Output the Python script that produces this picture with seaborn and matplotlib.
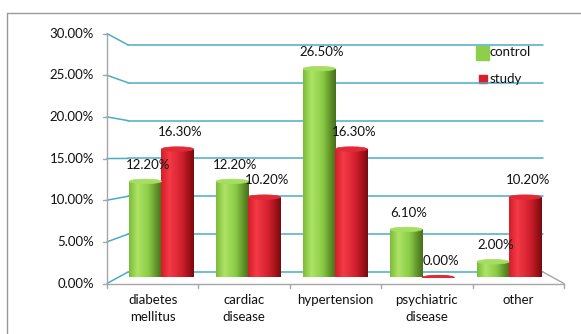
import numpy as np
import pandas as pd
import matplotlib
matplotlib.use("Agg")
import matplotlib.pyplot as plt
import seaborn as sns
from matplotlib.colors import LinearSegmentedColormap
from matplotlib.patches import Ellipse, Rectangle
from matplotlib.lines import Line2D

# ---- data ----
categories = ["diabetes\nmellitus", "cardiac\ndisease", "hypertension", "psychiatric\ndisease", "other"]
control = [12.2, 12.2, 26.5, 6.1, 2.0]
study = [16.3, 10.2, 16.3, 0.0, 10.2]
groups = ["control", "study"]
y_ticks = [0, 5, 10, 15, 20, 25, 30]

sns.set_theme(style="white")
plt.rcParams["font.family"] = ["Lato", "DejaVu Sans"]
FS = 9.5
TXT = "#111111"

W, H = 581, 334
fig = plt.figure(figsize=(W / 100, H / 100), dpi=100)

# background overlay in pixel coordinates
bg = fig.add_axes([0, 0, 1, 1], zorder=0)
bg.set_xlim(0, W)
bg.set_ylim(H, 0)
bg.axis("off")

grid_c = "#4bacc6"
axis_c = "#a6a6a6"
# outer frame
bg.add_line(Line2D([7, 7], [13, H], color="#9a9a9a", lw=1))
bg.add_line(Line2D([7, W], [13, 13], color="#9a9a9a", lw=1))

# back wall gridlines + slanted connectors to front axis
fx, bx, ex = 107, 128, 543
for v in y_ticks:
    yb = 272 - 7.57 * v
    yf = 283.5 - 8.33 * v
    bg.add_line(Line2D([bx, ex], [yb, yb], color=grid_c, lw=1.1))
    bg.add_line(Line2D([fx, bx], [yf, yb], color=grid_c, lw=1.1))
    bg.add_line(Line2D([fx - 4, fx], [yf, yf], color=axis_c, lw=1))
    bg.text(94, yf, f"{v:.2f}%", ha="right", va="center", fontsize=FS, color=TXT)
# front vertical axis
bg.add_line(Line2D([fx, fx], [283.5, 283.5 - 8.33 * 30], color=axis_c, lw=1))
# floor front edge and right slant
bg.add_line(Line2D([fx, 564], [283.5, 283.5], color=axis_c, lw=1))
bg.add_line(Line2D([ex, 564], [272, 283.5], color=axis_c, lw=1))
for i in range(6):
    x = fx + 91.4 * i
    bg.add_line(Line2D([x, x], [283.5, 288], color=axis_c, lw=1))
for i, lab in enumerate(categories):
    bg.text(153 + 91.3 * i, 293.5, lab, ha="center", va="top", fontsize=FS,
            color=TXT, linespacing=1.55)

# legend
bg.add_patch(Rectangle((476, 46), 13, 14, color="#8ccf48"))
bg.text(490, 52.5, "control", ha="left", va="center", fontsize=FS, color=TXT)
bg.add_patch(Rectangle((479, 75), 8, 8, color="#d81e28"))
bg.text(490, 79, "study", ha="left", va="center", fontsize=FS, color=TXT)

# ---- bars axes ----
x0, x1 = 118, 552.5
y0 = 277.5
scale = 7.88
ax = fig.add_axes([x0 / W, (H - y0) / H, (x1 - x0) / W, scale * 30 / H], zorder=2)
ax.patch.set_alpha(0)

df = pd.DataFrame({
    "category": categories * 2,
    "value": control + study,
    "group": [groups[0]] * len(categories) + [groups[1]] * len(categories),
})
sns.barplot(data=df, x="category", y="value", hue="group", hue_order=groups,
            order=categories, palette=["#8ccf48", "#d81e28"], width=0.74,
            legend=False, ax=ax, saturation=1)
ax.set_xlim(-0.5, len(categories) - 0.5)
ax.set_ylim(0, 30)
ax.axis("off")

cm_g = LinearSegmentedColormap.from_list("g", [(0, "#7cbc3a"), (0.25, "#aee466"),
                                              (0.6, "#8acb46"), (0.85, "#5f9028"), (1, "#46701c")])
cm_r = LinearSegmentedColormap.from_list("r", [(0, "#d41e2a"), (0.25, "#f43a46"),
                                              (0.6, "#d52230"), (0.85, "#a31219"), (1, "#760a10")])
grad = np.linspace(0, 1, 64).reshape(1, -1)
eh = 4.5 / scale
bars = list(ax.patches)
n = len(categories)
for k, p in enumerate(bars):
    cmap = cm_g if k < n else cm_r
    top_c = "#a6dd62" if k < n else "#e22a36"
    x = p.get_x(); w = p.get_width(); h = p.get_height()
    p.set_visible(False)
    # bottom ellipse
    be = Ellipse((x + w / 2, 0), w, eh, transform=ax.transData, facecolor="none", edgecolor="none")
    ax.add_patch(be)
    im = ax.imshow(grad, cmap=cmap, aspect="auto", extent=(x, x + w, -eh, max(h, 0.01)),
                   zorder=3, interpolation="bilinear")
    rect = Rectangle((x, 0), w, h, transform=ax.transData, facecolor="none", edgecolor="none")
    ax.add_patch(rect)
    im.set_clip_path(rect)
    im2 = ax.imshow(grad, cmap=cmap, aspect="auto", extent=(x, x + w, -eh, eh),
                    zorder=3, interpolation="bilinear")
    im2.set_clip_path(be)
    # top ellipse
    te = Ellipse((x + w / 2, h), w, eh, facecolor=top_c, edgecolor=top_c, lw=0.5, zorder=4)
    ax.add_patch(te)
    val = control[k] if k < n else study[k - n]
    ax.annotate(f"{val:.2f}%", (x + w / 2, h), xytext=(2, 12), textcoords="offset points",
                ha="center", va="center", fontsize=FS, color=TXT, zorder=5,
                annotation_clip=False)
ax.set_xlim(-0.5, len(categories) - 0.5)
ax.set_ylim(0, 30)

fig.savefig("out.png", dpi=100, facecolor="white")
